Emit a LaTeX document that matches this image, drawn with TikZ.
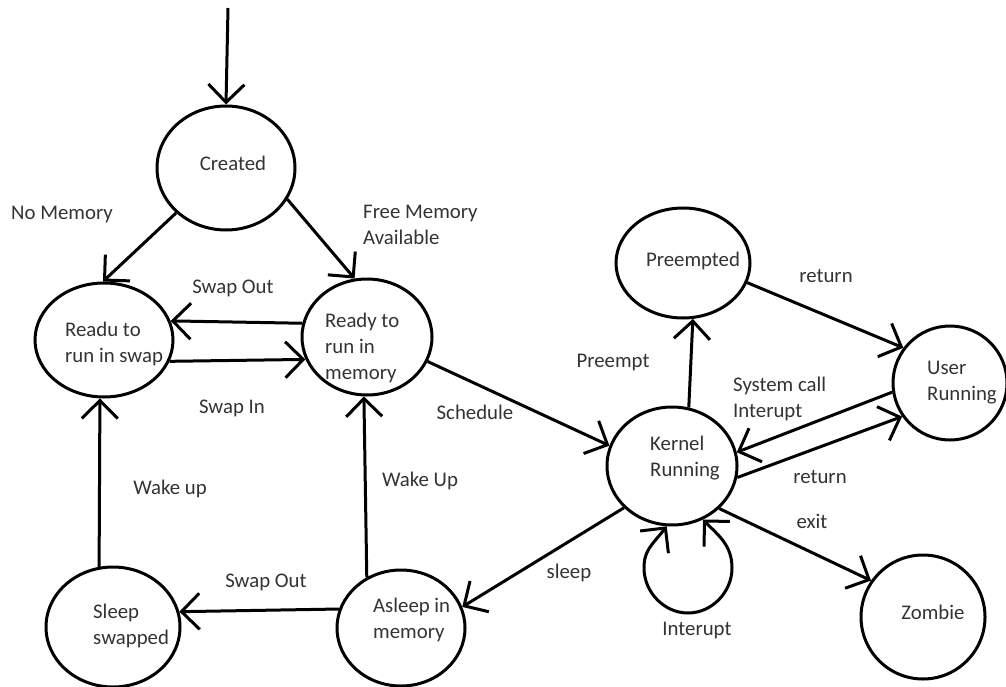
\documentclass[tikz,border=0pt]{standalone}
\usepackage{fontspec}
\setmainfont{Carlito}
\usetikzlibrary{arrows.meta,shapes.geometric}
\definecolor{labelgray}{rgb}{0.2,0.2,0.2}
\begin{document}
\begin{tikzpicture}[x=1pt,y=-1pt,
  state/.style={draw, ellipse, line width=3pt, inner sep=0pt},
  txt/.style={text=labelgray, font=\fontsize{20.8}{26}\selectfont, inner sep=0pt, align=left},
  barb/.tip={Straight Barb[length=18pt,width=36pt]},
  arr/.style={line width=3pt, -barb},
]
% canvas
\fill[white] (0,0) rectangle (1006,687);
\useasboundingbox (0,0) rectangle (1006,687);

% states
\node[state, minimum width=138pt, minimum height=124pt] (created) at (226,168) {};
\node[state, minimum width=138pt, minimum height=114pt] (swap)    at (104,340) {};
\node[state, minimum width=130pt, minimum height=116pt] (mem)     at (367,337) {};
\node[state, minimum width=134pt, minimum height=110pt] (pre)     at (683,263) {};
\node[state, minimum width=114pt, minimum height=114pt] (user)    at (950,383) {};
\node[state, minimum width=130pt, minimum height=118pt] (kern)    at (672,466) {};
\node[state, minimum width=124pt, minimum height=124pt] (zombie)  at (923,617) {};
\node[state, minimum width=134pt, minimum height=120pt] (sleepsw) at (113,627) {};
\node[state, minimum width=128pt, minimum height=116pt] (asleep)  at (401,628) {};

% state names
\node[txt] (tcreated) at (233,163) {Created};
\node[txt, anchor=west] (tswap) at (65,344) {Readu to\\run in swap};
\node[txt, anchor=west] (tmem) at (325,348) {Ready to\\run in\\memory};
\node[txt] (tpre) at (693,261) {Preempted};
\node[txt, anchor=west] (tkern) at (650,458) {Kernel\\Running};
\node[txt, anchor=west] (tuser) at (927,383) {User\\Running};
\node[txt] (tzombie) at (933,612) {Zombie};
\node[txt, anchor=west] (tsleepsw) at (93,626) {Sleep\\swapped};
\node[txt, anchor=west] (tasleep) at (373,620) {Asleep in\\memory};

% transitions
\coordinate (init) at (228,8);
\draw[arr] (init) -- (created.north);
\draw[arr] (created.222) -- (swap.91);
\draw[arr] (created.333) -- (mem.102);
\draw[arr] (mem.168) -- (swap.16);
\draw[arr] (swap.342) -- (mem.200);
\draw[arr] (mem.338) -- (kern.162);
\draw[arr] (kern.74) -- (pre.280);
\draw[arr] (pre.343) -- (user.143);
\draw[arr] (user.189) -- (kern.12);
\draw[arr] (kern.350) -- (user.215);
\draw[arr] (kern.318) -- (zombie.145);
\draw[arr] (kern.221) -- (asleep.19);
\draw[arr] (asleep.163) -- (sleepsw.13);
\draw[arr] (sleepsw.103) -- (swap.266);
\draw[arr] (asleep.124) -- (mem.267);

% interrupt self-loop under the kernel state
\coordinate (loopbot) at (688,613);
\draw[line width=3pt, barb-barb] (kern.265)
  .. controls (652,545) and (644,550) .. (644,568)
  .. controls (644,592) and (664,613) .. (loopbot)
  .. controls (712,613) and (732,592) .. (732,568)
  .. controls (732,545) and (718,535) .. (kern.300);

% transition labels
\node[txt] (lnomem) at (62,215) {No Memory};
\node[txt, anchor=west] (lfree) at (363,225) {Free Memory\\Available};
\node[txt] (lswapout1) at (233,288) {Swap Out};
\node[txt] (lswapin) at (232,408) {Swap In};
\node[txt] (lsched) at (475,412) {Schedule};
\node[txt] (lpreempt) at (613,363) {Preempt};
\node[txt] (lret1) at (826,276) {return};
\node[txt, anchor=west] (lsyscall) at (733,399) {System call\\Interupt};
\node[txt] (lret2) at (820,477) {return};
\node[txt] (lexit) at (812,521) {exit};
\node[txt] (lsleep) at (569,573) {sleep};
\node[txt] (lintr) at (697,630) {Interupt};
\node[txt] (lwake1) at (170,489) {Wake up};
\node[txt] (lwake2) at (420,481) {Wake Up};
\node[txt] (lswapout2) at (266,582) {Swap Out};
\end{tikzpicture}
\end{document}
